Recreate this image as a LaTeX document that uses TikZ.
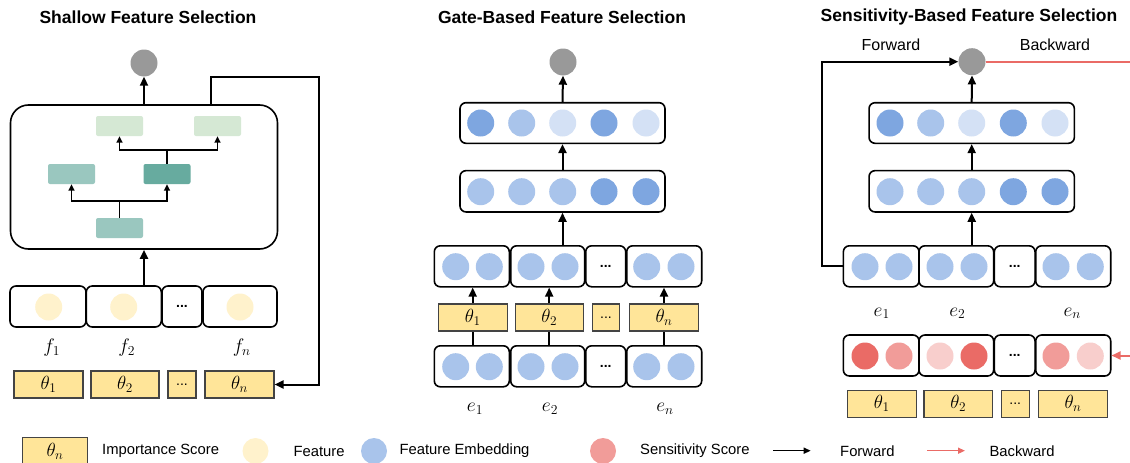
\documentclass[tikz,border=0pt]{standalone}
\usepackage{fix-cm}
\usepackage[no-math]{fontspec}
\setmainfont{Liberation Sans}
\usetikzlibrary{arrows.meta}
\definecolor{gcol}{HTML}{999999}
\definecolor{bD}{HTML}{7EA6E0}
\definecolor{bM}{HTML}{A9C4EB}
\definecolor{bL}{HTML}{D4E1F5}
\definecolor{rD}{HTML}{EA6B66}
\definecolor{rM}{HTML}{F19C99}
\definecolor{rL}{HTML}{F8CECC}
\definecolor{yF}{HTML}{FFF2CC}
\definecolor{thf}{HTML}{FFE599}
\definecolor{thb}{HTML}{444444}
\definecolor{grnL}{HTML}{D5E8D4}
\definecolor{tealL}{HTML}{9AC7BF}
\definecolor{tealD}{HTML}{67AB9F}
\definecolor{redln}{HTML}{EA6B66}
\begin{document}
\begin{tikzpicture}[x=1pt,y=-1pt,
  rbox/.style={draw=black, line width=1.6pt, rounded corners=6pt, inner sep=0pt, fill=white, minimum height=41pt},
  dot/.style={circle, inner sep=0pt, minimum size=27pt},
  gnode/.style={circle, inner sep=0pt, minimum size=27pt, fill=gcol},
  thbox/.style={draw=thb, line width=1.1pt, fill=thf, inner sep=0pt, minimum height=27pt, font=\fontsize{19}{19}\selectfont},
  gbox/.style={rounded corners=2pt, inner sep=0pt, minimum width=47pt, minimum height=20pt},
  arr/.style={line width=2pt, -{Triangle[length=9pt,width=8pt]}},
  sarr/.style={line width=1.5pt, -{Triangle[length=6.5pt,width=6pt]}},
  ln/.style={line width=2pt},
  ttl/.style={font=\fontsize{17.5}{20}\selectfont\bfseries},
  lbl/.style={font=\fontsize{19.5}{20}\selectfont},
  leg/.style={font=\fontsize{14.8}{17}\selectfont, anchor=west, inner sep=0pt},
  dts/.style={font=\fontsize{14}{14}\selectfont\bfseries},
  tdts/.style={font=\fontsize{14}{14}\selectfont\rmfamily}
]
\useasboundingbox (0,0) rectangle (1130,463);

% ================= Left panel =================
\node[ttl] (t1) at (148,17) {Shallow Feature Selection};
\node[gnode] (g1) at (144,63) {};
\node[rbox, rounded corners=18pt, minimum width=267pt, minimum height=144pt] (big) at (144,177) {};
\node[gbox, fill=tealL] (a1) at (119.5,228) {};
\node[gbox, fill=tealL] (b1) at (71.5,174) {};
\node[gbox, fill=tealD] (b2) at (167,174) {};
\node[gbox, fill=grnL] (c1) at (119.5,126) {};
\node[gbox, fill=grnL] (c2) at (217.5,126) {};
\draw[line width=1.5pt] (a1.north) -- ++(0,-17) coordinate (j1);
\draw[sarr] (j1) -| (b1.south);
\draw[sarr] (j1) -| (b2.south);
\draw[line width=1.5pt] (b2.north) -- ++(0,-14) coordinate (j2);
\draw[sarr] (j2) -| (c1.south);
\draw[sarr] (j2) -| (c2.south);
\draw[arr] (big.north) -- (g1.south);

\node[rbox, minimum width=76pt] (F1) at (48,306.5) {};
\node[rbox, minimum width=75pt] (F2) at (123.8,306.5) {};
\node[rbox, minimum width=40pt, dts] (F3) at (182,306.5) {...};
\node[rbox, minimum width=74pt] (F4) at (240,306.5) {};
\node[dot, fill=yF] (y1) at (48.7,307) {};
\node[dot, fill=yF] (y2) at (123.7,307) {};
\node[dot, fill=yF] (y3) at (240,307) {};
\draw[arr] (F2.north -| big.south) -- (big.south);

\node[lbl] (f1) at (51.7,348) {$f_1$};
\node[lbl] (f2) at (126.7,348) {$f_2$};
\node[lbl] (fn) at (241.7,348) {$f_n$};

\node[thbox, minimum width=69pt] (T1) at (48.5,384.5) {$\theta_1$};
\node[thbox, minimum width=68pt] (T2) at (125,384.5) {$\theta_2$};
\node[thbox, minimum width=28pt, tdts] (T3) at (182,384.5) {...};
\node[thbox, minimum width=69pt] (T4) at (239.5,384.5) {$\theta_n$};

\coordinate (lA) at (211,105);
\coordinate (lB) at (319,77);
\draw[arr] (lA) |- (lB) |- (T4.east);

% ================= Middle panel =================
\node[ttl] (t2) at (562,17) {Gate-Based Feature Selection};
\node[gnode] (g2) at (563,62) {};
\node[rbox, minimum width=205pt, minimum height=40.6pt] (ML1) at (562.5,123) {};
\foreach \x/\c [count=\i] in {480.7/bD,521.7/bM,562.7/bL,604/bD,646/bL}
  \node[dot, fill=\c] (mt\i) at (\x,123) {};
\node[rbox, minimum width=205pt, minimum height=41.3pt] (ML2) at (562.5,191.3) {};
\foreach \x/\c [count=\i] in {480.7/bM,521.7/bM,562.7/bM,604/bD,646/bD}
  \node[dot, fill=\c] (ms\i) at (\x,191.7) {};
\draw[arr] (ML1.north) -- (g2.south);
\draw[arr] (ML2.north) -- (ML1.south);

\node[rbox, minimum width=75pt] (E1) at (471.8,266.3) {};
\node[rbox, minimum width=74pt] (E2) at (547.7,266.3) {};
\node[rbox, minimum width=40pt, dts] (E3) at (605.7,266.3) {...};
\node[rbox, minimum width=75pt] (E4) at (664.2,266.3) {};
\foreach \x [count=\i] in {455.7,489.3,531,565,646.7,681}
  \node[dot, fill=bM] (mu\i) at (\x,266.7) {};
\draw[arr] (E2.north -| ML2.south) -- (ML2.south);

\node[thbox, minimum width=68.7pt] (M1) at (472.7,317.5) {$\theta_1$};
\node[thbox, minimum width=68.3pt] (M2) at (549.2,317.5) {$\theta_2$};
\node[thbox, minimum width=27.4pt, tdts] (M3) at (606,317.5) {...};
\node[thbox, minimum width=68.6pt] (M4) at (664,317.5) {$\theta_n$};

\node[rbox, minimum width=75pt] (D1) at (471.8,366.3) {};
\node[rbox, minimum width=74pt] (D2) at (547.7,366.3) {};
\node[rbox, minimum width=40pt, dts] (D3) at (605.7,366.3) {...};
\node[rbox, minimum width=75pt] (D4) at (664.2,366.3) {};
\foreach \x [count=\i] in {455.7,489.3,531,565,646.7,681}
  \node[dot, fill=bM] (md\i) at (\x,366.7) {};

\draw[arr] (M1.north) -- (M1.north |- E1.south);
\draw[arr] (M2.north) -- (M2.north |- E2.south);
\draw[arr] (M4.north) -- (M4.north |- E4.south);
\draw[ln] (M1.south |- D1.north) -- (M1.south);
\draw[ln] (M2.south |- D2.north) -- (M2.south);
\draw[ln] (M4.south |- D4.north) -- (M4.south);

\node[lbl] (e1) at (475,409) {$e_1$};
\node[lbl] (e2) at (550,409) {$e_2$};
\node[lbl] (en) at (665,409) {$e_n$};

% ================= Right panel =================
\node[ttl] (t3) at (969,17) {Sensitivity-Based Feature Selection};
\node[font=\fontsize{16}{18}\selectfont] (fw) at (891,45) {Forward};
\node[font=\fontsize{16}{18}\selectfont] (bw) at (1055,45) {Backward};
\node[gnode] (g3) at (972,61.7) {};
\node[rbox, minimum width=205.3pt, minimum height=40.6pt] (RL1) at (971.7,123) {};
\foreach \x/\c [count=\i] in {890/bD,930.7/bM,971.7/bL,1013.3/bD,1055/bL}
  \node[dot, fill=\c] (rt\i) at (\x,123) {};
\node[rbox, minimum width=205.3pt, minimum height=41.3pt] (RL2) at (971.7,191.3) {};
\foreach \x/\c [count=\i] in {890/bM,930.7/bM,971.7/bM,1013.3/bD,1055/bD}
  \node[dot, fill=\c] (rs\i) at (\x,191.7) {};
\draw[arr] (RL1.north) -- (g3.south);
\draw[arr] (RL2.north) -- (RL1.south);

\node[rbox, minimum width=75.7pt] (S1) at (881.2,266.3) {};
\node[rbox, minimum width=74.7pt] (S2) at (956.3,266.3) {};
\node[rbox, minimum width=40.7pt, dts] (S3) at (1014.7,266.3) {...};
\node[rbox, minimum width=75pt] (S4) at (1073.2,266.3) {};
\foreach \x [count=\i] in {865,899,940,974,1056,1090.3}
  \node[dot, fill=bM] (ru\i) at (\x,266.7) {};
\draw[arr] (S2.north -| RL2.south) -- (RL2.south);

\coordinate (fwA) at (822,61.7);
\draw[arr] (S1.west) -| (fwA) -- (g3.west);
\coordinate (bwA) at (1132,61.7);
\draw[line width=2pt, redln] (g3.east) -- (bwA);

\node[lbl] (re1) at (881.7,313.3) {$e_1$};
\node[lbl] (re2) at (957.3,313.3) {$e_2$};
\node[lbl] (ren) at (1072.3,313.3) {$e_n$};

\node[rbox, minimum width=75.7pt] (P1) at (881.2,355.5) {};
\node[rbox, minimum width=74.7pt] (P2) at (956.3,355.5) {};
\node[rbox, minimum width=40.7pt, dts] (P3) at (1014.7,355.5) {...};
\node[rbox, minimum width=75pt] (P4) at (1073.2,355.5) {};
\foreach \x/\c [count=\i] in {865/rD,899/rM,940/rL,974/rD,1056/rM,1090.3/rL}
  \node[dot, fill=\c] (rp\i) at (\x,356) {};
\coordinate (bwB) at (1132,355.5);
\draw[line width=2pt, redln, -{Triangle[length=9pt,width=8pt]}] (bwB) -- (P4.east);

\node[thbox, minimum width=68.7pt] (Q1) at (881.7,403.7) {$\theta_1$};
\node[thbox, minimum width=68.7pt] (Q2) at (958.3,403.7) {$\theta_2$};
\node[thbox, minimum width=27.7pt, tdts] (Q3) at (1015.2,403.7) {...};
\node[thbox, minimum width=68.6pt] (Q4) at (1073,403.7) {$\theta_n$};

% ================= Legend =================
\node[thbox, minimum width=64.6pt] (lg1) at (55,451.2) {$\theta_n$};
\node[leg] (lt1) at (102,451) {Importance Score};
\node[dot, fill=yF, minimum size=26pt] (lg2) at (255.5,451) {};
\node[leg] (lt2) at (293.3,451) {Feature};
\node[dot, fill=bM, minimum size=26pt] (lg3) at (374,451) {};
\node[leg] (lt3) at (399.3,451) {Feature Embedding};
\node[dot, fill=rM, minimum size=26pt] (lg4) at (603,451) {};
\node[leg] (lt4) at (640,451) {Sensitivity Score};
\coordinate (la1) at (773.3,450.7);
\coordinate (la2) at (810.7,450.7);
\draw[line width=1.4pt, -{Triangle[length=7pt,width=6pt]}] (la1) -- (la2);
\node[leg] (lt5) at (840,451) {Forward};
\coordinate (lb1) at (927.3,450.7);
\coordinate (lb2) at (965,450.7);
\draw[line width=1.4pt, redln, -{Triangle[length=7pt,width=6pt]}] (lb1) -- (lb2);
\node[leg] (lt6) at (989.3,451) {Backward};
\end{tikzpicture}
\end{document}
